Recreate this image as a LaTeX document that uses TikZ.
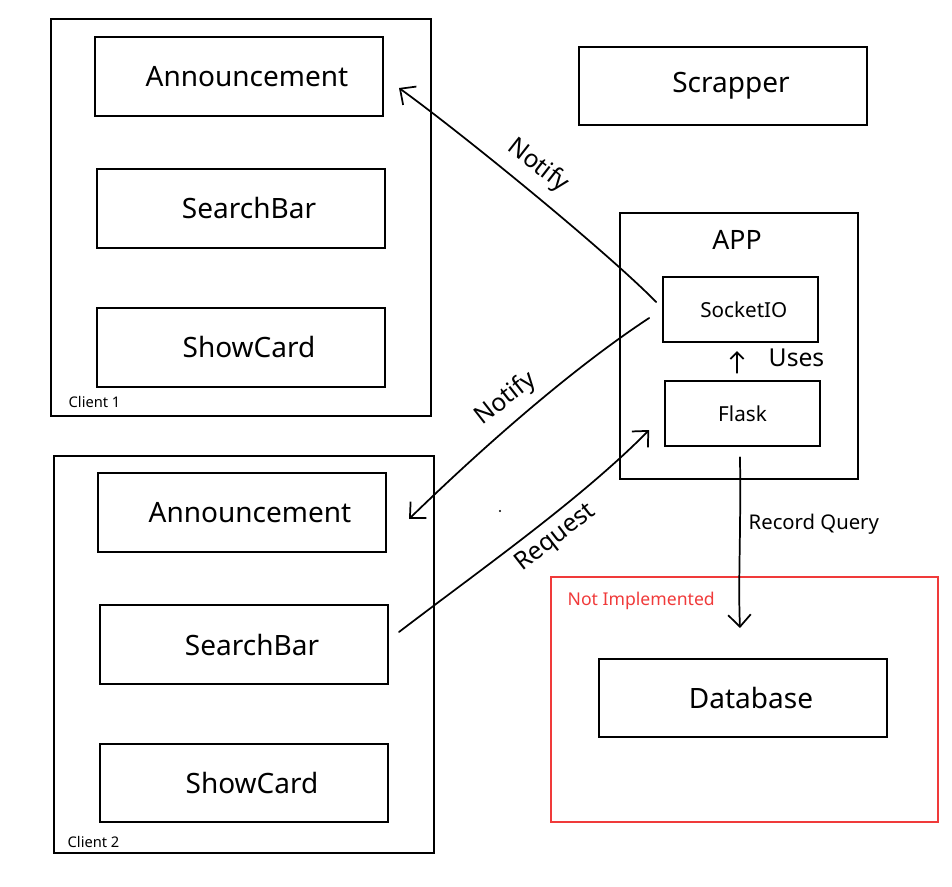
\documentclass[tikz,border=0pt]{standalone}
\usepackage{fontspec}
\setmainfont{Noto Sans}
\usetikzlibrary{arrows.meta}
\definecolor{redbox}{HTML}{F03A3A}
\newcommand{\rt}[1]{\hspace*{12pt}#1}
\begin{document}
\begin{tikzpicture}[x=0.75pt,y=-0.75pt,
  box/.style={draw,line width=1.5pt},
  comp/.style={draw,line width=1.5pt,minimum width=216pt,minimum height=59pt,font=\fontsize{21}{24}\selectfont},
  small/.style={draw,line width=1.5pt,minimum width=116pt,minimum height=49pt,font=\fontsize{15.5}{18}\selectfont},
  hand/.style={line width=1.3pt,line cap=round,-{Straight Barb[length=9pt,width=17pt,line width=1.3pt]}},
  lbl/.style={font=\fontsize{18.5}{22}\selectfont},
  tiny/.style={font=\fontsize{11}{13}\selectfont}]
\useasboundingbox (0,0) rectangle (952,887);
% Client 1
\draw[box] (51,19) rectangle (431,416);
\node[comp] (ann1) at (239,76.5) {\rt{Announcement}};
\node[comp] (sb1) at (241,208.5) {\rt{SearchBar}};
\node[comp] (sc1) at (241,347.5) {\rt{ShowCard}};
\node[tiny,anchor=west] (c1) at (64,402) {Client 1};
% Client 2
\draw[box] (54,456) rectangle (434,853);
\node[comp] (ann2) at (242,512.5) {\rt{Announcement}};
\node[comp] (sb2) at (244,644.5) {\rt{SearchBar}};
\node[comp] (sc2) at (244,783) {\rt{ShowCard}};
\node[tiny,anchor=west] (c2) at (63,842) {Client 2};
% Scrapper
\node[comp] (scr) at (723,86) {\rt{Scrapper}};
% APP
\draw[box] (620,213) rectangle (858,479);
\node[font=\fontsize{20}{24}\selectfont] (app) at (737,240) {APP};
\node[small] (sock) at (740.5,309.5) {\hspace*{5pt}SocketIO};
\node[small] (flask) at (742.5,413.5) {Flask};
\draw[line width=1.3pt,line cap=round,-{Straight Barb[length=5pt,width=10pt,line width=1.3pt]}] ([shift={(-5.5,-7)}]flask.north) -- ([shift={(-3.5,8)}]sock.south);
\node[lbl,anchor=west] (uses) at (764,358) {Uses};
% Not implemented region
\draw[redbox,line width=1.5pt] (551,577) rectangle (938,822);
\node[redbox,font=\fontsize{13.2}{15}\selectfont,anchor=west] (ni) at (563,601) {Not Implemented};
\node[comp] (db) at (743,698) {\rt{Database}};
% Record Query
\draw[hand] ([shift={(-2.5,10)}]flask.south) .. controls (741,540) and (738,580) .. (740,628) coordinate (dbin);
\node[font=\fontsize{15.2}{18}\selectfont,anchor=west] (rq) at (744,524) {Record Query};
% Notify 1
\draw[hand] ([shift={(-6,-7.5)}]sock.west) .. controls (605,250) and (460,132) .. ([shift={(15,11.5)}]ann1.east);
\node[lbl,rotate=-38] (n1) at (538,166) {Notify};
% Notify 2
\draw[hand] ([shift={(-13,8.5)}]sock.west) .. controls (570,370) and (480,450) .. ([shift={(22,6.5)}]ann2.east);
\node[lbl,rotate=38] (n2) at (506,399) {Notify};
% Request
\draw[hand] ([shift={(10,-12.5)}]sb2.east) .. controls (480,570) and (580,500) .. ([shift={(-15,16.5)}]flask.west);
\node[lbl,rotate=38] (rqst) at (556,538) {Request};
\fill (500,511) circle (0.8pt);
\end{tikzpicture}
\end{document}
